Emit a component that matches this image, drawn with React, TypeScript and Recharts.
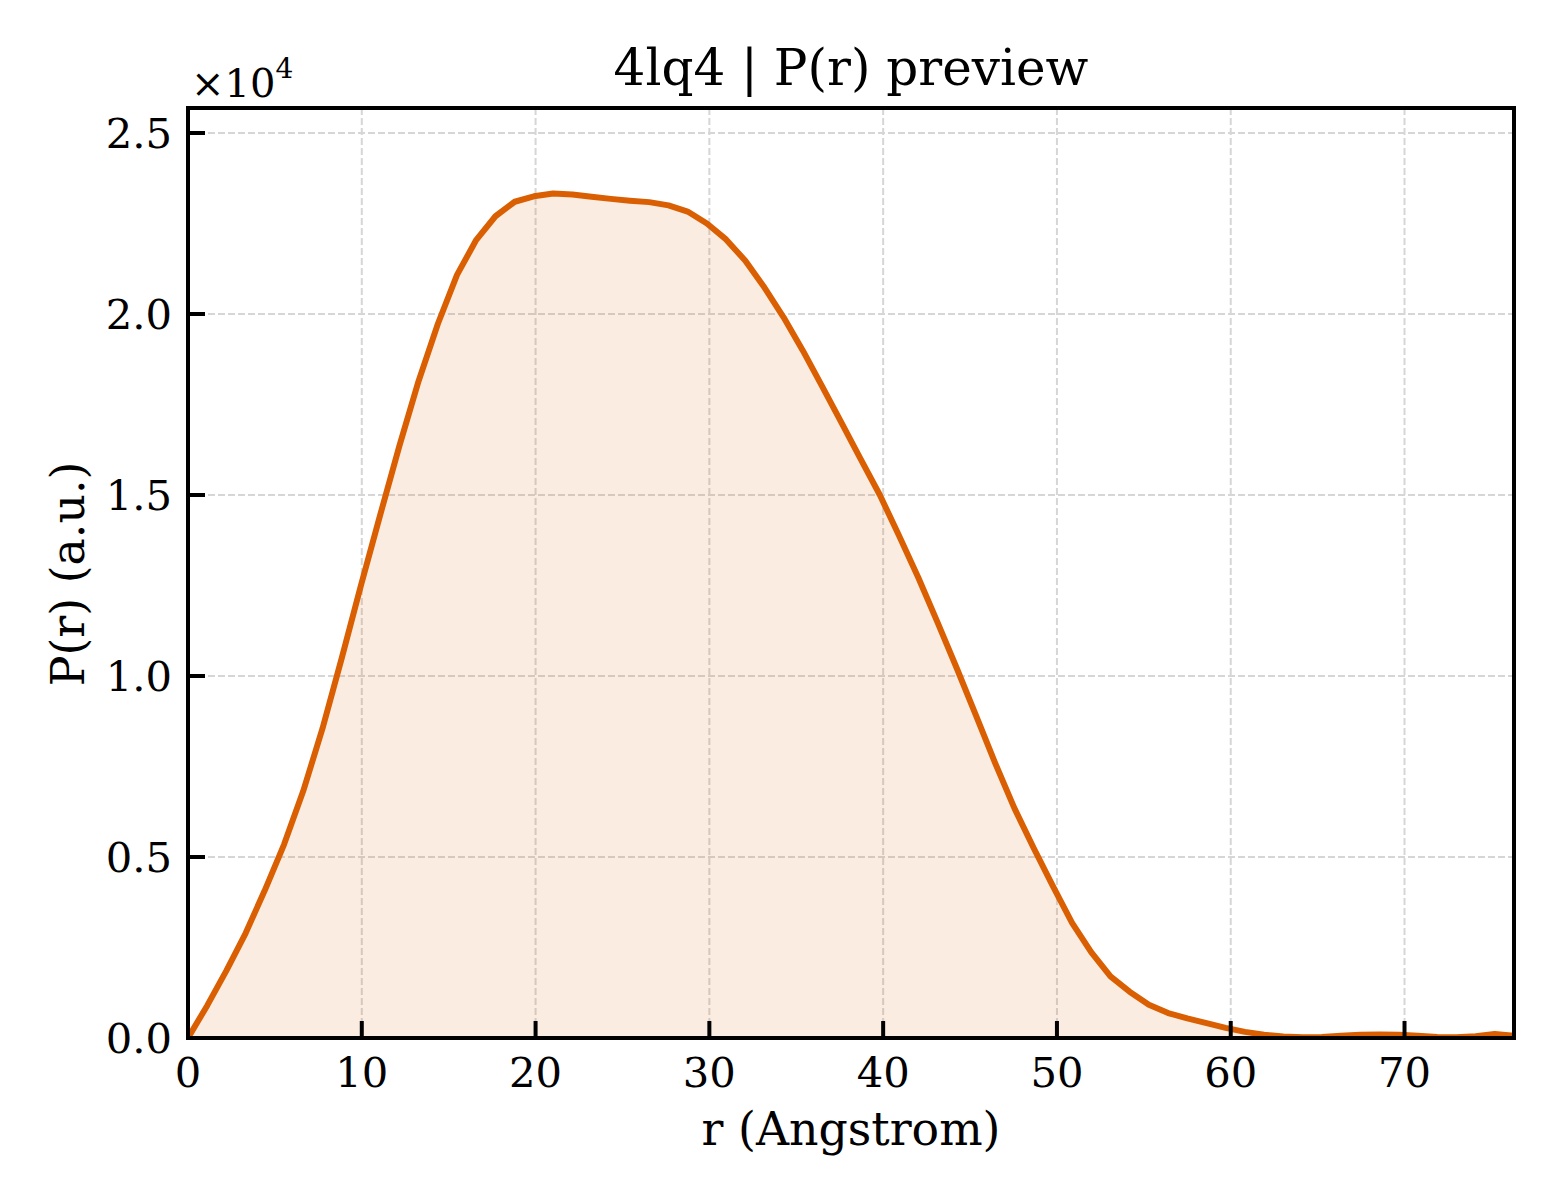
import React from 'react';
import { ComposedChart, Area, XAxis, YAxis, CartesianGrid, Label } from 'recharts';

// pair distance r (Angstrom)
const R_ANGSTROM = [
  0, 1.11, 2.21, 3.32, 4.42, 5.53, 6.63, 7.74, 8.85, 9.95,
  11.06, 12.16, 13.27, 14.38, 15.48, 16.59, 17.69, 18.8, 19.9, 21.01,
  22.12, 23.22, 24.33, 25.43, 26.54, 27.65, 28.75, 29.86, 30.96, 32.07,
  33.17, 34.28, 35.39, 36.49, 37.6, 38.7, 39.81, 40.91, 42.02, 43.13,
  44.23, 45.34, 46.44, 47.55, 48.66, 49.76, 50.87, 51.97, 53.08, 54.18,
  55.29, 56.4, 57.5, 58.61, 59.71, 60.82, 61.92, 63.03, 64.14, 65.24,
  66.35, 67.45, 68.56, 69.67, 70.77, 71.88, 72.98, 74.09, 75.19, 76.3,
];

// P(r), in units of 1e4
const P_R = [
  0, 0.09, 0.186, 0.29, 0.408, 0.535, 0.682, 0.855, 1.05, 1.25,
  1.445, 1.635, 1.815, 1.973, 2.108, 2.205, 2.27, 2.31, 2.325, 2.333,
  2.33, 2.324, 2.318, 2.313, 2.309, 2.3, 2.283, 2.25, 2.206, 2.147,
  2.073, 1.99, 1.898, 1.8, 1.7, 1.6, 1.5, 1.388, 1.272, 1.148,
  1.022, 0.891, 0.76, 0.635, 0.525, 0.42, 0.318, 0.237, 0.17, 0.128,
  0.092, 0.069, 0.054, 0.041, 0.028, 0.017, 0.009, 0.004, 0.002, 0.003,
  0.006, 0.009, 0.01, 0.009, 0.006, 0.003, 0.002, 0.005, 0.011, 0.006,
];

const X_TICKS = [0, 10, 20, 30, 40, 50, 60, 70];
const Y_TICKS = [0, 0.5, 1.0, 1.5, 2.0, 2.5];
const X_MAX = 76.3;
const Y_MAX = 2.569;

const LINE = '#D95F02';
const FONT = '"DejaVu Serif", serif';
const FRAME = { stroke: '#000', strokeWidth: 4, strokeLinecap: 'square' as const };

const data = R_ANGSTROM.map((r, i) => ({ r, p: P_R[i] }));

const XTick = (props: any) => {
  const { x, y, payload } = props;
  return (
    <g>
      <line x1={x} x2={x} y1={y} y2={y - 17} stroke="#000" strokeWidth={4} />
      <text x={x} y={y + 49} textAnchor="middle" fontFamily={FONT} fontSize={41.7} fill="#000">
        {payload.value}
      </text>
    </g>
  );
};

const YTick = (props: any) => {
  const { x, y, payload } = props;
  return (
    <g>
      <line x1={x} x2={x + 17} y1={y} y2={y} stroke="#000" strokeWidth={4} />
      <text x={x - 16} y={y + 15} textAnchor="end" fontFamily={FONT} fontSize={41.7} fill="#000">
        {Number(payload.value).toFixed(1)}
      </text>
    </g>
  );
};

export default function App() {
  return (
    <div style={{ position: 'absolute', left: 0, top: 0, width: 1560, height: 1200, background: '#fff' }}>
      <ComposedChart
        width={1560}
        height={1200}
        data={data}
        margin={{ top: 98, right: 36, bottom: 132, left: 128 }}
      >
        <CartesianGrid stroke="#d6d6d6" strokeWidth={2} strokeDasharray="7 3" />
        <XAxis
          dataKey="r"
          type="number"
          domain={[0, X_MAX]}
          ticks={X_TICKS}
          allowDataOverflow
          height={30}
          tickSize={0}
          tickMargin={0}
          tickLine={false}
          tick={<XTick />}
          axisLine={FRAME}
        >
          <Label
            content={() => (
              <text x={851} y={1145} textAnchor="middle" fontFamily={FONT} fontSize={45.8} fill="#000">
                r (Angstrom)
              </text>
            )}
          />
        </XAxis>
        <XAxis
          xAxisId="top"
          orientation="top"
          dataKey="r"
          type="number"
          domain={[0, X_MAX]}
          ticks={X_TICKS}
          allowDataOverflow
          height={10}
          tick={false}
          tickLine={false}
          axisLine={FRAME}
        >
          <Label
            content={() => (
              <text x={851} y={85} textAnchor="middle" fontFamily={FONT} fontSize={50} fill="#000">
                4lq4 | P(r) preview
              </text>
            )}
          />
        </XAxis>
        <YAxis
          type="number"
          domain={[0, Y_MAX]}
          ticks={Y_TICKS}
          allowDataOverflow
          width={60}
          tickSize={0}
          tickMargin={0}
          tickLine={false}
          tick={<YTick />}
          axisLine={FRAME}
        >
          <Label
            content={() => (
              <text
                x={84}
                y={574}
                transform="rotate(-90, 84, 574)"
                textAnchor="middle"
                fontFamily={FONT}
                fontSize={45.8}
                fill="#000"
              >
                P(r) (a.u.)
              </text>
            )}
          />
          <Label
            content={() => (
              <text x={191} y={97} fontFamily={FONT} fontSize={40} fill="#000">
                ×10
                <tspan dy={-19} fontSize={28}>
                  4
                </tspan>
              </text>
            )}
          />
        </YAxis>
        <YAxis
          yAxisId="right"
          orientation="right"
          type="number"
          domain={[0, Y_MAX]}
          allowDataOverflow
          width={10}
          tick={false}
          tickLine={false}
          axisLine={FRAME}
        />
        <Area
          type="linear"
          dataKey="p"
          stroke={LINE}
          strokeWidth={6}
          strokeLinejoin="round"
          fill={LINE}
          fillOpacity={0.12}
          dot={false}
          activeDot={false}
          isAnimationActive={false}
        />
      </ComposedChart>
    </div>
  );
}
